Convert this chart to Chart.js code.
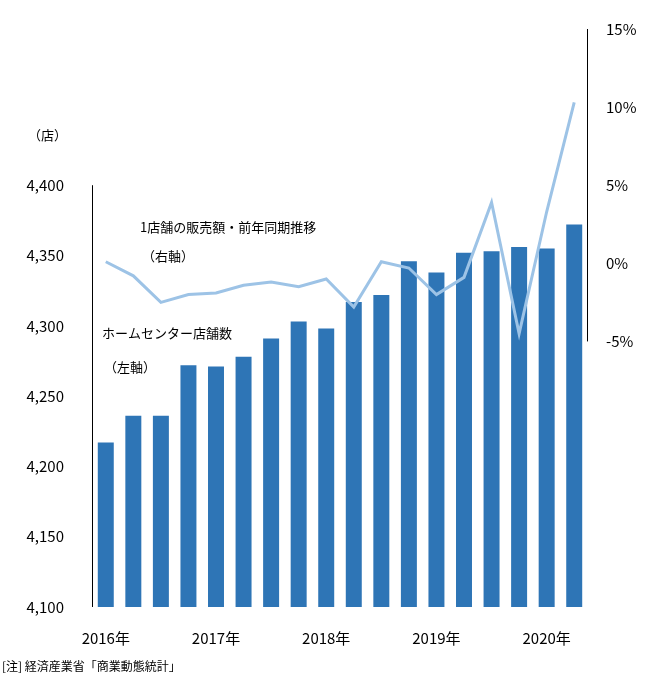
<!DOCTYPE html>
<html><head><meta charset="utf-8">
<script src="https://cdn.jsdelivr.net/npm/chart.js@4"></script>
<style>body{margin:0;background:#fff}#wrap{width:650px;height:682px}</style>
</head><body><div id="wrap"><canvas id="c" width="650" height="682"></canvas></div>
<script>
const quarters = ['2016年','','','','2017年','','','','2018年','','','','2019年','','','','2020年',''];
const storeCount = [4217,4236,4236,4272,4271,4278,4291,4303,4298,4317,4322,4346,4338,4352,4353,4356,4355,4372];
const salesYoY = [0.1,-0.8,-2.5,-2.0,-1.9,-1.4,-1.2,-1.5,-1.0,-2.8,0.1,-0.3,-2.0,-0.9,3.9,-4.5,3.3,10.3];
const leftTicks = [4100,4150,4200,4250,4300,4350,4400];
const rightTicks = [-5,0,5,10,15];

const FONT = "'Noto Sans CJK JP', sans-serif";

// axis lines only over the labelled range, plus text notes
const extras = {
  id: 'extras',
  afterDraw(chart) {
    const ctx = chart.ctx, y = chart.scales.y, y2 = chart.scales.y2, a = chart.chartArea;
    ctx.save();
    ctx.strokeStyle = '#000'; ctx.lineWidth = 1;
    ctx.beginPath();
    ctx.moveTo(a.left + 0.5, y.getPixelForValue(4400)); ctx.lineTo(a.left + 0.5, y.getPixelForValue(4100));
    ctx.moveTo(a.right - 0.5, y2.getPixelForValue(15)); ctx.lineTo(a.right - 0.5, y2.getPixelForValue(-5));
    ctx.stroke();
    ctx.fillStyle = '#000';
    ctx.font = '13px ' + FONT;
    ctx.textBaseline = 'middle';
    ctx.fillText('（店）', 28, 135);
    ctx.fillText('1店舗の販売額・前年同期推移', 140, 227);
    ctx.fillText('（右軸）', 142, 256);
    ctx.fillText('ホームセンター店舗数', 102, 333);
    ctx.fillText('（左軸）', 104, 367);
    ctx.font = '12px ' + FONT;
    ctx.fillText('[注] 経済産業省「商業動態統計」', 2, 666);
    ctx.restore();
  }
};

new Chart(document.getElementById('c'), {
  data: {
    labels: quarters,
    datasets: [
      { type: 'line', data: salesYoY, yAxisID: 'y2', borderColor: '#9dc3e6', borderWidth: 3,
        pointRadius: 0, tension: 0, order: 0 },
      { type: 'bar', data: storeCount, yAxisID: 'y', backgroundColor: '#2e75b6',
        barPercentage: 0.58, categoryPercentage: 1, order: 1 }
    ]
  },
  options: {
    responsive: false, animation: false,
    layout: { padding: { top: 2, bottom: 35, left: 0, right: 0 } },
    plugins: { legend: { display: false }, tooltip: { enabled: false } },
    scales: {
      x: {
        grid: { display: false }, border: { display: false },
        ticks: { autoSkip: false, maxRotation: 0, color: '#000', font: { size: 15, family: FONT }, padding: 14 },
        afterFit(s) { s.height = 40; }
      },
      y: {
        position: 'left', min: 4100, max: 4100 + 300 * 592 / 432,
        grid: { display: false }, border: { display: false },
        afterBuildTicks(s) { s.ticks = leftTicks.map(v => ({ value: v })); },
        ticks: { color: '#000', font: { size: 15, family: FONT }, padding: 20,
          callback: v => v.toLocaleString('en-US') },
        afterFit(s) { s.width = 92; }
      },
      y2: {
        position: 'right', min: 15 - 592 / 16, max: 15,
        grid: { display: false }, border: { display: false },
        afterBuildTicks(s) { s.ticks = rightTicks.map(v => ({ value: v })); },
        ticks: { color: '#000', font: { size: 15, family: FONT }, padding: 10, callback: v => v + '%' },
        afterFit(s) { s.width = 62; }
      }
    }
  },
  plugins: [extras]
});
</script></body></html>
